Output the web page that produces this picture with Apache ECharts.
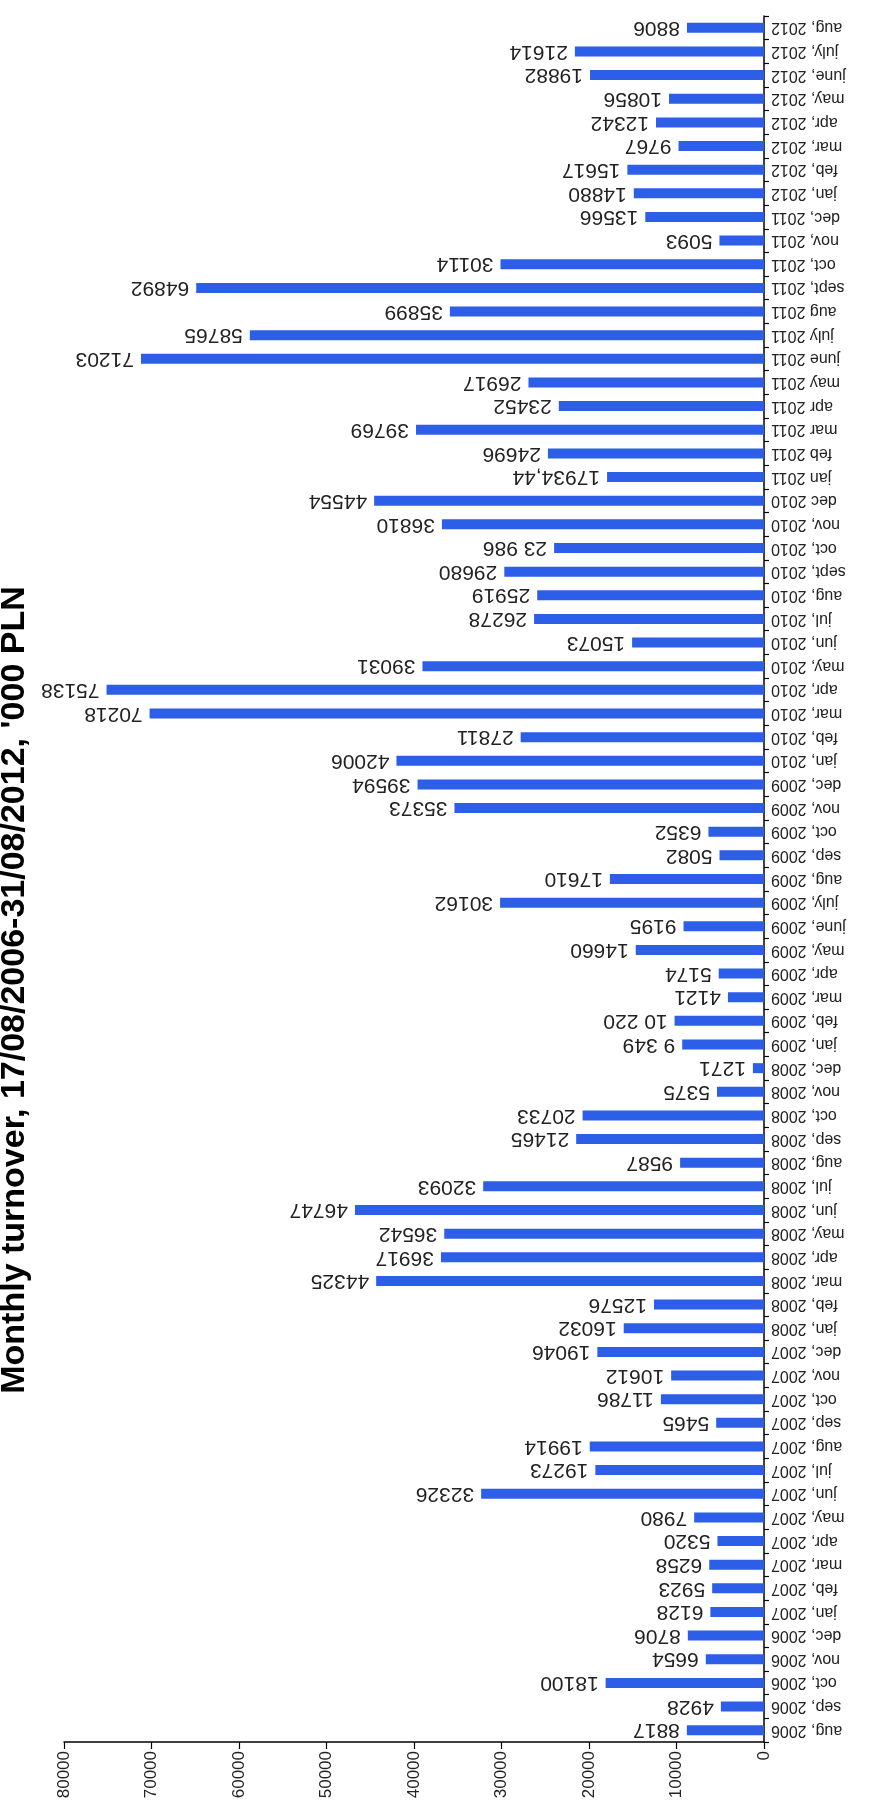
<!DOCTYPE html>
<html>
<head>
<meta charset="utf-8">
<script src="https://cdn.jsdelivr.net/npm/echarts@6/dist/echarts.min.js"></script>
<style>
html,body{margin:0;padding:0;background:#fff;}
#chart{width:888px;height:1805px;}
</style>
</head>
<body>
<div id="chart"></div>
<script>
const categories = ['aug, 2006','sep, 2006','oct, 2006','nov, 2006','dec, 2006',
'jan, 2007','feb, 2007','mar, 2007','apr, 2007','may, 2007','jun, 2007','jul, 2007','aug, 2007','sep, 2007','oct, 2007','nov, 2007','dec, 2007',
'jan, 2008','feb, 2008','mar, 2008','apr, 2008','may, 2008','jun, 2008','jul, 2008','aug, 2008','sep, 2008','oct, 2008','nov, 2008','dec, 2008',
'jan, 2009','feb, 2009','mar, 2009','apr, 2009','may, 2009','june, 2009','july, 2009','aug, 2009','sep, 2009','oct, 2009','nov, 2009','dec, 2009',
'jan, 2010','feb, 2010','mar, 2010','apr, 2010','may, 2010','jun, 2010','jul, 2010','aug, 2010','sept, 2010','oct, 2010','nov, 2010','dec 2010',
'jan 2011','feb 2011','mar 2011','apr 2011','may 2011','june 2011','july 2011','aug 2011','sept, 2011','oct, 2011','nov, 2011','dec, 2011',
'jan, 2012','feb, 2012','mar, 2012','apr, 2012','may, 2012','june, 2012','july, 2012','aug, 2012'];

const turnover = [8817, 4928, 18100, 6654, 8706,
6128, 5923, 6258, 5320, 7980, 32326, 19273, 19914, 5465, 11786, 10612, 19046,
16032, 12576, 44325, 36917, 36542, 46747, 32093, 9587, 21465, 20733, 5375, 1271,
9349, 10220, 4121, 5174, 14660, 9195, 30162, 17610, 5082, 6352, 35373, 39594,
42006, 27811, 70218, 75138, 39031, 15073, 26278, 25919, 29680, 23986, 36810, 44554,
17934.44, 24696, 39769, 23452, 26917, 71203, 58765, 35899, 64892, 30114, 5093, 13566,
14880, 15617, 9767, 12342, 10856, 19882, 21614, 8806];

const valueLabels = ['8817','4928','18100','6654','8706',
'6128','5923','6258','5320','7980','32326','19273','19914','5465','11786','10612','19046',
'16032','12576','44325','36917','36542','46747','32093','9587','21465','20733','5375','1271',
'9 349','10 220','4121','5174','14660','9195','30162','17610','5082','6352','35373','39594',
'42006','27811','70218','75138','39031','15073','26278','25919','29680','23 986','36810','44554',
'17934,44','24696','39769','23452','26917','71203','58765','35899','64892','30114','5093','13566',
'14880','15617','9767','12342','10856','19882','21614','8806'];

const valueTicks = [0, 80000, 10000];
const titleText = "Monthly turnover, 17/08/2006-31/08/2012, '000 PLN";

const chart = echarts.init(document.getElementById('chart'), null, {renderer: 'canvas'});
const regular = "'Liberation Sans', Arial, sans-serif";
const option = {
  animation: false,
  backgroundColor: '#ffffff',
  grid: {left: 64, right: 124, top: 16, bottom: 63, containLabel: false},
  graphic: [{
    type: 'text',
    x: 15, y: 990,
    rotation: Math.PI / 2,
    style: {
      text: titleText,
      font: "bold 34px 'Liberation Sans', Arial, sans-serif",
      fill: '#000',
      textAlign: 'center',
      textVerticalAlign: 'middle'
    }
  }],
  xAxis: {
    type: 'value',
    inverse: true,
    min: valueTicks[0], max: valueTicks[1], interval: valueTicks[2],
    position: 'bottom',
    axisLine: {show: true, lineStyle: {color: '#000', width: 1.5}},
    axisTick: {show: true, length: 7, lineStyle: {color: '#000', width: 1.2}},
    splitLine: {show: false},
    axisLabel: {rotate: 90, margin: 9, fontSize: 17, color: '#222',
      fontFamily: regular,
      formatter: function (v) { return String(v); }}
  },
  yAxis: {
    type: 'category',
    data: categories,
    position: 'right',
    axisLine: {show: true, lineStyle: {color: '#000', width: 1.5}},
    axisTick: {show: true, length: 5, inside: false, lineStyle: {color: '#000', width: 1.2}},
    axisLabel: {rotate: 180, margin: 7, fontSize: 16, color: '#222', interval: 0,
      fontFamily: regular}
  },
  series: [{
    type: 'bar',
    data: turnover,
    barWidth: 10,
    itemStyle: {color: '#2d5ee8'},
    label: {
      show: true,
      position: 'left',
      distance: 7,
      rotate: 180,
      align: 'left',
      verticalAlign: 'middle',
      fontSize: 21,
      color: '#222',
      fontFamily: regular,
      formatter: function (p) { return valueLabels[p.dataIndex]; }
    }
  }]
};
chart.setOption(option);
</script>
</body>
</html>
